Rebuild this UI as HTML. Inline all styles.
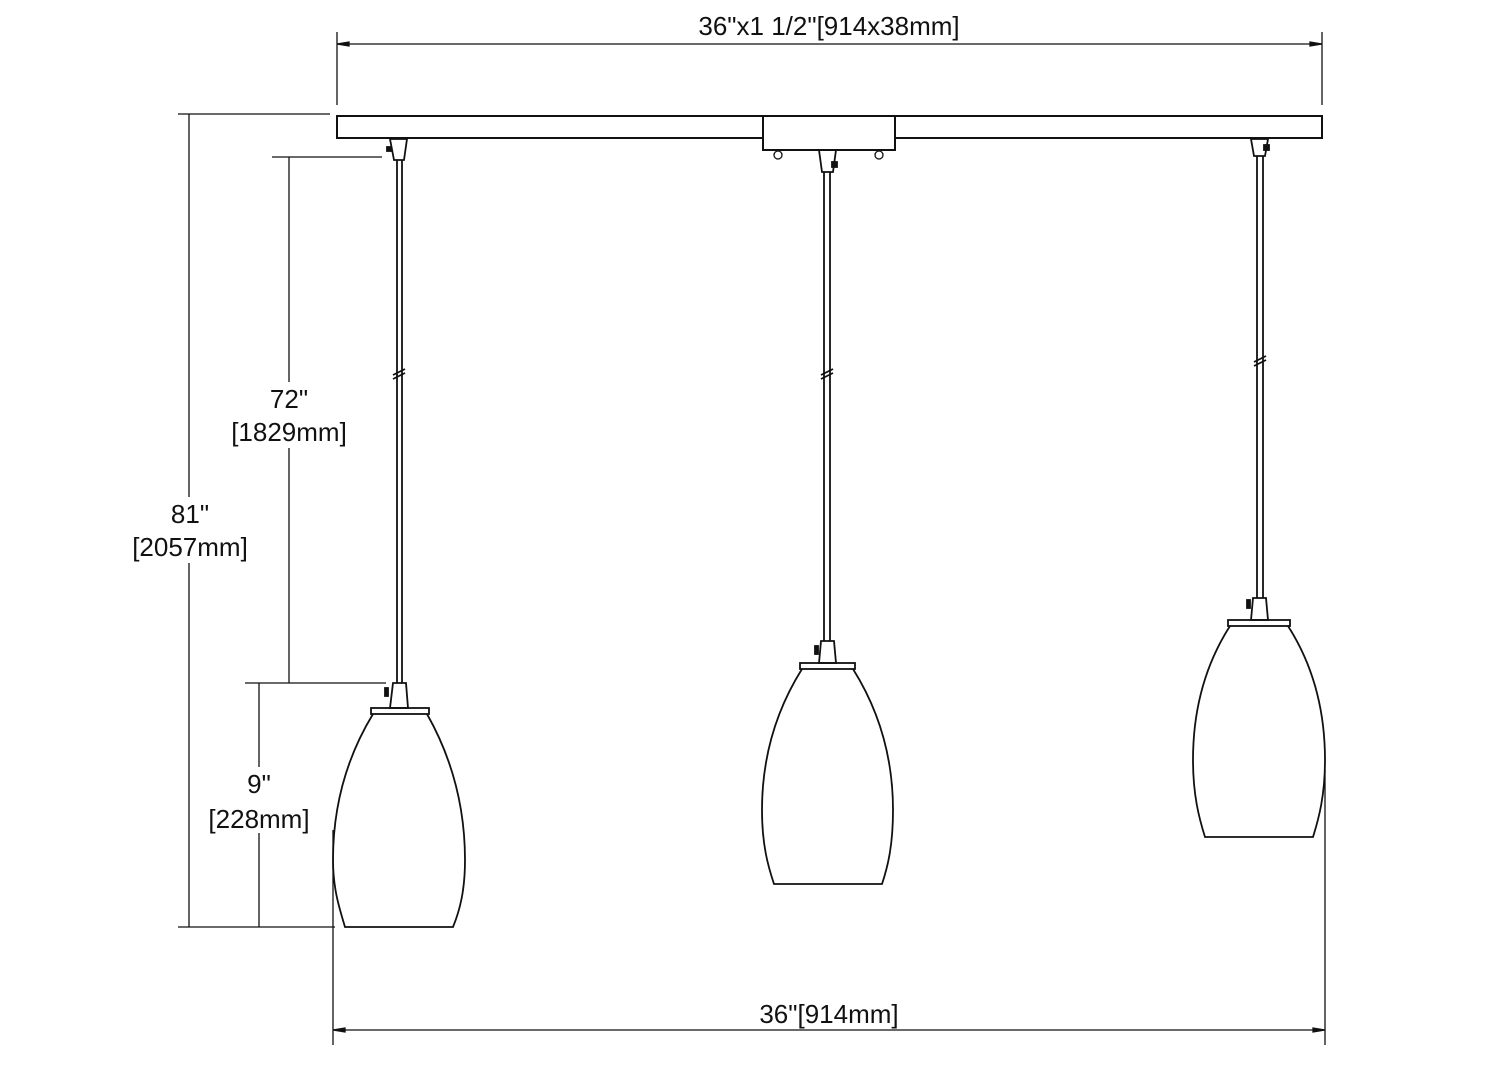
<!DOCTYPE html>
<html><head><style>body{margin:0;background:#fff}svg{display:block}</style></head><body>
<svg width="1500" height="1071" viewBox="0 0 1500 1071" xmlns="http://www.w3.org/2000/svg" font-family="Liberation Sans, sans-serif" font-size="26" fill="none" stroke="#111" stroke-width="1.3">
<line x1="337" y1="44" x2="1322" y2="44"/>
<line x1="337" y1="32" x2="337" y2="105"/><line x1="1322" y1="32" x2="1322" y2="105"/>
<polygon points="337,44 349,42 349,46" fill="#111"/><polygon points="1322,44 1310,42 1310,46" fill="#111"/>
<text x="829" y="35" text-anchor="middle" fill="#111" stroke="none">36"x1 1/2"[914x38mm]</text>
<rect x="337" y="116" width="985" height="22" stroke-width="2"/>
<rect x="763" y="116" width="132" height="34" fill="#fff" stroke-width="2"/>
<circle cx="778" cy="155" r="4"/><circle cx="879" cy="155" r="4"/>
<line x1="189" y1="114" x2="189" y2="927"/>
<line x1="178" y1="114" x2="330" y2="114"/><line x1="178" y1="927" x2="335" y2="927"/>
<line x1="289" y1="157" x2="289" y2="683"/>
<line x1="272" y1="157" x2="382" y2="157"/><line x1="245" y1="683" x2="386" y2="683"/>
<line x1="259" y1="683" x2="259" y2="927"/>
<g fill="#111" stroke="none" text-anchor="middle">
<rect x="128" y="497" width="124" height="66" fill="#fff"/>
<text x="190" y="523">81"</text><text x="190" y="556">[2057mm]</text>
<rect x="226" y="382" width="126" height="66" fill="#fff"/>
<text x="289" y="408">72"</text><text x="289" y="441">[1829mm]</text>
<rect x="200" y="767" width="118" height="66" fill="#fff"/>
<text x="259" y="793">9"</text><text x="259" y="828">[228mm]</text>
<text x="829" y="1023">36"[914mm]</text>
</g>
<line x1="333" y1="1030" x2="1325" y2="1030"/>
<line x1="333" y1="830" x2="333" y2="1045"/><line x1="1325" y1="770" x2="1325" y2="1045"/>
<polygon points="333,1030 345,1028 345,1032" fill="#111"/><polygon points="1325,1030 1313,1028 1313,1032" fill="#111"/>
<g stroke-width="1.8">
<polygon points="390,139 407,139 404,160 394,160"/><rect x="387" y="147" width="4" height="4" fill="#111"/>
<line x1="397" y1="160" x2="397" y2="683"/><line x1="402" y1="160" x2="402" y2="683"/>
<line x1="393" y1="375" x2="405" y2="369"/><line x1="393" y1="379" x2="405" y2="373"/>
<polygon points="393,683 406,683 408,708 390,708"/><rect x="385" y="688" width="3" height="8" fill="#111"/>
<rect x="371" y="708" width="58" height="6"/>
<path d="M373,714 C345,760 333,810 333,860 C333,890 340,910 345,927 L453,927 C460,910 465,890 465,860 C465,810 453,760 427,714"/>
<polygon points="819,150 836,150 833,172 822,172"/><rect x="832" y="162" width="5" height="5" fill="#111"/>
<line x1="824" y1="172" x2="824" y2="641"/><line x1="830" y1="172" x2="830" y2="641"/>
<line x1="821" y1="375" x2="833" y2="369"/><line x1="821" y1="379" x2="833" y2="373"/>
<polygon points="821,641 834,641 836,663 819,663"/><rect x="815" y="646" width="3" height="8" fill="#111"/>
<rect x="800" y="663" width="55" height="6"/>
<path d="M802,669 C775,712 762,760 762,810 C762,845 768,866 774,884 L882,884 C888,866 893,845 893,810 C893,760 880,712 853,669"/>
<polygon points="1251,139 1268,139 1265,156 1254,156"/><rect x="1264" y="145" width="5" height="5" fill="#111"/>
<line x1="1257" y1="156" x2="1257" y2="598"/><line x1="1263" y1="156" x2="1263" y2="598"/>
<line x1="1254" y1="362" x2="1266" y2="356"/><line x1="1254" y1="366" x2="1266" y2="360"/>
<polygon points="1253,598 1266,598 1268,620 1251,620"/><rect x="1247" y="600" width="3" height="8" fill="#111"/>
<rect x="1228" y="620" width="62" height="6"/>
<path d="M1230,626 C1205,665 1193,710 1193,760 C1193,795 1199,818 1205,837 L1313,837 C1319,818 1325,795 1325,760 C1325,710 1313,665 1288,626"/>
</g>
</svg>
</body></html>
